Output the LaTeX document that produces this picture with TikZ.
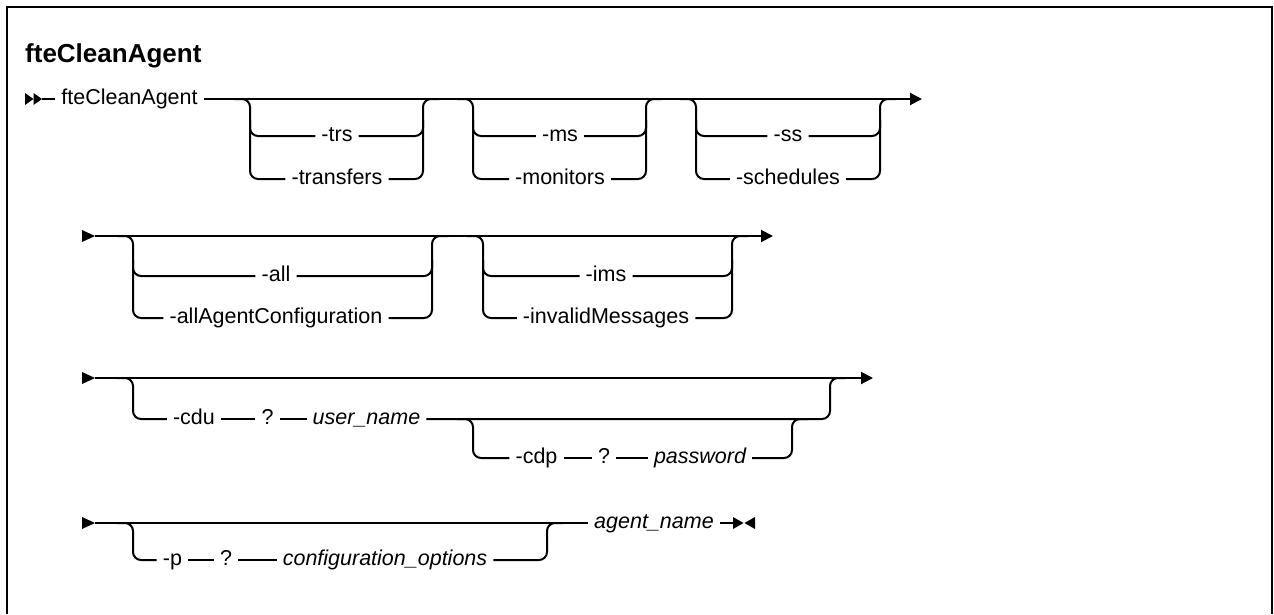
\documentclass[tikz,border=0pt]{standalone}
\usepackage{fontspec}
\setmainfont{Liberation Sans}
\usetikzlibrary{arrows.meta}
\newcommand\rr{\fontsize{21.5}{26}\selectfont}
% two-option optional group: id, xL, xR, ymain, yrow1, yrow2, xcenter, text1, text2
\newcommand\twoopt[9]{%
  \node[lbl] (#1a) at (#7,#5) {#8};
  \node[lbl] (#1b) at (#7,#6) {#9};
  \draw[rail] (#2-16,#4) -- (#2,#4) -- (#2,#6) -- (#1b.west);
  \draw[rail] (#2,#5-16) -- (#2,#5) -- (#1a.west);
  \draw[rail] (#1b.east) -- (#3,#6) -- (#3,#4) -- (#3+16,#4);
  \draw[rail] (#1a.east) -- (#3,#5) -- (#3,#5-16);
}
\begin{document}
\begin{tikzpicture}[x=1pt,y=-1pt,
  rail/.style={line width=2pt,rounded corners=8pt},
  lbl/.style={inner xsep=6pt,inner ysep=0pt,anchor=center,text height=11.1pt,text depth=0pt,font=\rr},
  var/.style={lbl,font=\rr\itshape},
  endarr/.style={-{Triangle[length=12pt,width=12pt]}}]
\useasboundingbox (0,0) rectangle (1274,614);
\draw[line width=2pt] (6.5,614) -- (6.5,6.5) -- (1272,6.5) -- (1272,614);
\node[anchor=base west,inner sep=0pt,font=\fontsize{26}{30}\selectfont\bfseries] (title) at (25,62) {fteCleanAgent};
% ---- row 1
\fill (25,93) -- (33.5,99) -- (25,105) -- cycle;
\fill (33.5,93) -- (42,99) -- (33.5,105) -- cycle;
\coordinate (s1) at (42,99);
\coordinate (e1) at (922,99);
\node[lbl] (cmd) at (129.5,99) {fteCleanAgent};
\draw[rail] (s1) -- (cmd.west);
\draw[rail,endarr] (cmd.east) -- (e1);
\twoopt{ga}{250}{423}{99}{136}{179}{337}{-trs}{-transfers}
\twoopt{gb}{473}{646}{99}{136}{179}{560}{-ms}{-monitors}
\twoopt{gc}{696}{880}{99}{136}{179}{788}{-ss}{-schedules}
% ---- row 2
\fill (82,230) -- (95,236) -- (82,242) -- cycle;
\coordinate (s2) at (95,236);
\coordinate (e2) at (773,236);
\draw[rail,endarr] (s2) -- (e2);
\twoopt{gd}{133}{432}{236}{276}{318}{276}{-all}{-allAgentConfiguration}
\twoopt{ge}{483}{732}{236}{276}{318}{606}{-ims}{-invalidMessages}
% ---- row 3
\fill (82,372) -- (95,378) -- (82,384) -- cycle;
\coordinate (s3) at (95,378);
\coordinate (e3) at (873,378);
\draw[rail,endarr] (s3) -- (e3);
\node[lbl] (cdu) at (194,419) {-cdu};
\node[lbl] (q1) at (267.5,419) {?};
\node[var] (un) at (366.5,419) {user\_name};
\node[lbl] (cdp) at (536.5,458) {-cdp};
\node[lbl] (q2) at (604,458) {?};
\node[var] (pw) at (700,458) {password};
\draw[rail] (117,378) -- (133,378) -- (133,419) -- (cdu.west);
\draw[rail] (cdu.east) -- (q1.west);
\draw[rail] (q1.east) -- (un.west);
\draw[rail] (un.east) -- (830,419) -- (830,378) -- (846,378);
\draw[rail] (457,419) -- (473,419) -- (473,458) -- (cdp.west);
\draw[rail] (cdp.east) -- (q2.west);
\draw[rail] (q2.east) -- (pw.west);
\draw[rail] (pw.east) -- (792,458) -- (792,419) -- (808,419);
% ---- row 4
\fill (82,517) -- (95,523) -- (82,529) -- cycle;
\coordinate (s4) at (95,523);
\node[lbl] (p) at (172.5,560) {-p};
\node[lbl] (q3) at (226,560) {?};
\node[var] (co) at (385,560) {configuration\_options};
\node[var] (an) at (654,523) {agent\_name};
\draw[rail] (s4) -- (an.west);
\draw[rail] (117,523) -- (133,523) -- (133,560) -- (p.west);
\draw[rail] (p.east) -- (q3.west);
\draw[rail] (q3.east) -- (co.west);
\draw[rail] (co.east) -- (547,560) -- (547,523) -- (563,523);
\coordinate (bt) at (733,523);
\draw[rail] (an.east) -- (bt);
\fill (733,517) -- (743.5,523) -- (733,529) -- cycle;
\fill (755,517) -- (744.5,523) -- (755,529) -- cycle;
\end{tikzpicture}
\end{document}
